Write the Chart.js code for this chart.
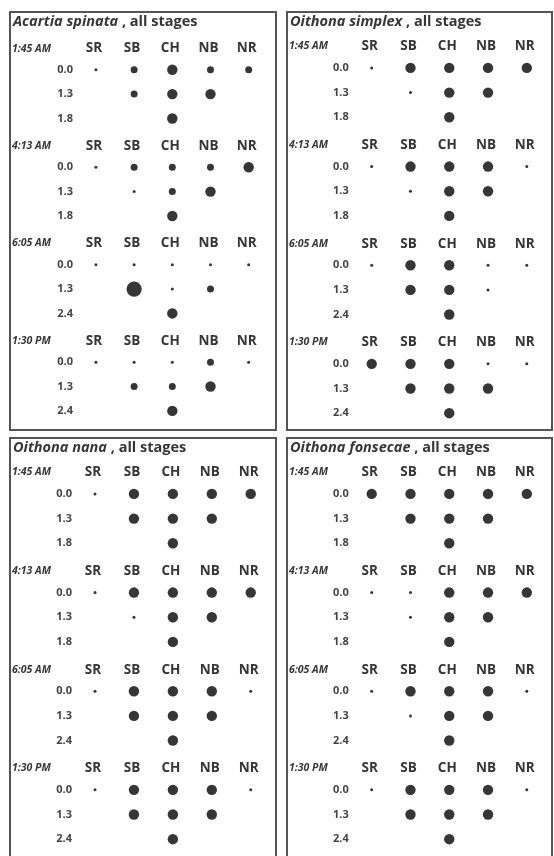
<!DOCTYPE html>
<html>
<head>
<meta charset="utf-8">
<script src="https://cdn.jsdelivr.net/npm/chart.js@4.4.1/dist/chart.umd.min.js"></script>
<style>
  body { margin: 0; background: #fff; width: 554px; height: 856px; overflow: hidden; position: relative; }
  .panel { position: absolute; border: 2px solid #555; background: #fff; box-sizing: border-box; overflow: hidden; }
  .panel canvas { position: absolute; left: 0; top: 0; }
</style>
</head>
<body>
<div class="panel" style="left:9px;top:11px;width:268px;height:420px"><canvas id="c0"></canvas></div>
<div class="panel" style="left:286px;top:11px;width:267px;height:420px"><canvas id="c1"></canvas></div>
<div class="panel" style="left:9px;top:437px;width:268px;height:425px"><canvas id="c2"></canvas></div>
<div class="panel" style="left:286px;top:437px;width:267px;height:425px"><canvas id="c3"></canvas></div>

<script>
const times = ['1:45 AM', '4:13 AM', '6:05 AM', '1:30 PM'];
const stations = ['SR', 'SB', 'CH', 'NB', 'NR'];
const depths = [['0.0', '1.3', '1.8'], ['0.0', '1.3', '1.8'], ['0.0', '1.3', '2.4'], ['0.0', '1.3', '2.4']];
const species = ['Acartia spinata', 'Oithona simplex', 'Oithona nana', 'Oithona fonsecae'];

// abundance class for each time/depth row and station (SR..NR)
// 0 = trace, 1 = low, 2 = high, 3 = very high, null = not sampled
const _ = null;
const acartia = [
    [0, 1, 2, 1, 1], [_, 1, 2, 2, _], [_, _, 2, _, _],
    [0, 1, 1, 1, 2], [_, 0, 1, 2, _], [_, _, 2, _, _],
    [0, 0, 0, 0, 0], [_, 3, 0, 1, _], [_, _, 2, _, _],
    [0, 0, 0, 1, 0], [_, 1, 1, 2, _], [_, _, 2, _, _]
];
const simplex = [
    [0, 2, 2, 2, 2], [_, 0, 2, 2, _], [_, _, 2, _, _],
    [0, 2, 2, 2, 0], [_, 0, 2, 2, _], [_, _, 2, _, _],
    [0, 2, 2, 0, 0], [_, 2, 2, 0, _], [_, _, 2, _, _],
    [2, 2, 2, 0, 0], [_, 2, 2, 2, _], [_, _, 2, _, _]
];
const nana = [
    [0, 2, 2, 2, 2], [_, 2, 2, 2, _], [_, _, 2, _, _],
    [0, 2, 2, 2, 2], [_, 0, 2, 2, _], [_, _, 2, _, _],
    [0, 2, 2, 2, 0], [_, 2, 2, 2, _], [_, _, 2, _, _],
    [0, 2, 2, 2, 0], [_, 2, 2, 2, _], [_, _, 2, _, _]
];
const fonsecae = [
    [2, 2, 2, 2, 2], [_, 2, 2, 2, _], [_, _, 2, _, _],
    [0, 0, 2, 2, 2], [_, 0, 2, 2, _], [_, _, 2, _, _],
    [0, 2, 2, 2, 0], [_, 0, 2, 2, _], [_, _, 2, _, _],
    [0, 2, 2, 2, 0], [_, 2, 2, 2, _], [_, _, 2, _, _]
];
const abundance = [acartia, simplex, nana, fonsecae];

const dotRadius = [1.5, 3.5, 5.2, 7.6];
const ink = '#363636';
const font = '"Open Sans"';

// row index: each time block = header row + 3 depth rows
function rowIndex(block, k) {
    return block * 4 + k + 1;
}

const panelText = {
    id: 'panelText',
    afterDatasetsDraw(chart, args, opts) {
        const { ctx } = chart;
        const x = chart.scales.x;
        const y = chart.scales.y;
        ctx.save();
        ctx.fillStyle = ink;
        ctx.textBaseline = 'middle';

        // title: species in italics
        ctx.textAlign = 'left';
        ctx.font = 'italic bold 14.5px ' + font;
        ctx.fillText(opts.title, 2, 9);
        const w = ctx.measureText(opts.title + ' ').width;
        ctx.font = 'bold 14.5px ' + font;
        ctx.fillText(', all stages', 2 + w, 9);

        times.forEach((t, b) => {
            const hy = y.getPixelForValue(b * 4 + 0.13);
            ctx.textAlign = 'left';
            ctx.font = 'italic bold 10.5px ' + font;
            ctx.fillText(t, 1, hy);

            ctx.textAlign = 'center';
            ctx.font = 'bold 13.5px ' + font;
            stations.forEach((s, i) => ctx.fillText(s, x.getPixelForValue(i + 1) - 2, hy));

            ctx.textAlign = 'right';
            ctx.font = 'bold 11px ' + font;
            ctx.fillStyle = '#444';
            depths[b].forEach((d, k) => {
                ctx.fillText(d, x.getPixelForValue(1) - 23, y.getPixelForValue(rowIndex(b, k)));
            });
            ctx.fillStyle = ink;
        });
        ctx.restore();
    }
};

species.forEach((name, p) => {
    const canvas = document.getElementById('c' + p);
    canvas.width = p % 2 === 0 ? 264 : 263;
    canvas.height = 416;

    const points = [];
    abundance[p].forEach((row, r) => {
        const block = Math.floor(r / 3);
        const k = r % 3;
        row.forEach((v, i) => {
            if (v === null) return;
            points.push({ x: i + 1, y: rowIndex(block, k), r: dotRadius[v] });
        });
    });

    new Chart(canvas, {
        type: 'bubble',
        data: {
            datasets: [{
                data: points,
                backgroundColor: ink,
                borderWidth: 0,
                hoverRadius: 0
            }]
        },
        options: {
            responsive: false,
            animation: false,
            events: [],
            layout: { padding: 0 },
            scales: {
                x: { type: 'linear', display: false, min: -1.025, max: 5.49 },
                y: { type: 'linear', display: false, reverse: true, min: -1.016, max: 15.43 }
            },
            plugins: {
                legend: { display: false },
                tooltip: { enabled: false },
                panelText: { title: name }
            }
        },
        plugins: [panelText]
    });
});
</script>
</body>
</html>
